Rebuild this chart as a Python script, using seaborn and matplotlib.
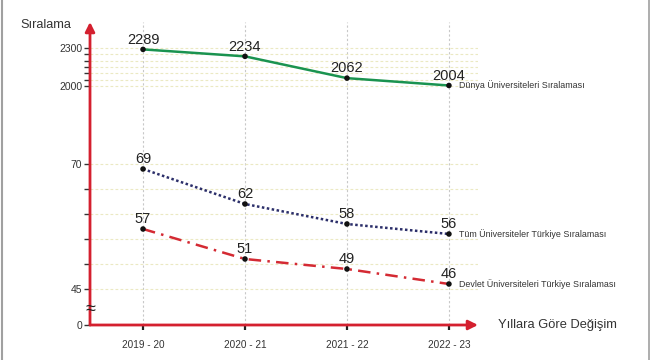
import numpy as np
import pandas as pd
import matplotlib
matplotlib.use('Agg')
import matplotlib.pyplot as plt
import seaborn as sns
from matplotlib.lines import Line2D
import matplotlib.transforms as mtransforms

# data
years = ['2019 - 20', '2020 - 21', '2021 - 22', '2022 - 23']
dunya = [2289, 2234, 2062, 2004]
tum_tr = [69, 62, 58, 56]
devlet_tr = [57, 51, 49, 46]
series_names = ['Dünya Üniversiteleri Sıralaması',
                'Tüm Üniversiteler Türkiye Sıralaması',
                'Devlet Üniversiteleri Türkiye Sıralaması']
major_ticks = [0, 45, 70, 2000, 2300]
minor_ticks = [50, 55, 60, 65, 2050, 2100, 2150, 2200, 2250]

sns.set_style('white')
plt.rcParams['font.family'] = ['Liberation Sans', 'DejaVu Sans']

RED = '#d4202f'
GREEN = '#1a9350'
NAVY = '#2c2f6a'
LRED = '#d42a33'

# broken axis: piecewise linear scale
VB = [0, 45, 70, 2000, 2300, 2600]
PB = [0, 36, 161, 239, 277, 315]


def fwd(v):
    return np.interp(v, VB, PB)


def inv(p):
    return np.interp(p, PB, VB)


fig = plt.figure(figsize=(6.5, 3.6), dpi=100)
ax = fig.add_axes([90 / 650, 35 / 360, 388 / 650, 303 / 360])
ax.set_yscale('function', functions=(fwd, inv))

df = pd.DataFrame({'x': range(len(years)), 'dunya': dunya,
                   'tum': tum_tr, 'devlet': devlet_tr})

sns.lineplot(data=df, x='x', y='dunya', ax=ax, color=GREEN, lw=1.8, zorder=3)
sns.lineplot(data=df, x='x', y='tum', ax=ax, color=NAVY, lw=1.8,
             linestyle=(0, (1, 1)), zorder=3)
sns.lineplot(data=df, x='x', y='devlet', ax=ax, color=LRED, lw=1.8,
             linestyle=(0, (5, 2.5, 1, 2.5)), zorder=3)

for col, name in zip(['dunya', 'tum', 'devlet'], series_names):
    sns.scatterplot(data=df, x='x', y=col, ax=ax, color='#111111', s=16,
                    edgecolor='none', zorder=4)
    for xi, v in zip(df['x'], df[col]):
        ax.annotate(str(v), (xi, v), xytext=(0, 2), textcoords='offset points',
                    ha='center', va='bottom', fontsize=10.5, color='#222222',
                    zorder=5)
    ax.annotate(name, (df['x'].iloc[-1], df[col].iloc[-1]), xytext=(7, 0),
                textcoords='offset points', ha='left', va='center',
                fontsize=6.4, color='#333333', annotation_clip=False)

ax.set_xlim(-0.52, 3.285)
ax.set_ylim(0, inv(303))

ax.set_yticks(major_ticks)
ax.set_yticklabels([str(t) for t in major_ticks])
ax.set_yticks(minor_ticks, minor=True)
ax.set_xticks(range(len(years)))
ax.set_xticklabels(years)

ax.tick_params(axis='y', which='both', direction='out', length=4.5, width=1,
               color='#333333', labelsize=7.5, labelcolor='#333333', pad=1,
               left=True)
ax.tick_params(axis='x', direction='out', length=3.5, width=1.6,
               color='#222222', labelsize=7.2, labelcolor='#333333', pad=7,
               bottom=True)

ax.grid(axis='y', which='both', color='#ebe9c2', linestyle=(0, (2.5, 2)), lw=0.8)
ax.grid(axis='x', which='major', color='#c8c8c8', linestyle=(0, (2, 2)), lw=0.8)
ax.set_xlabel('')
ax.set_ylabel('')
for s in ax.spines.values():
    s.set_visible(False)

# axis arrows
ax.annotate('', xy=(1, 0), xytext=(0, 0), xycoords='axes fraction',
            arrowprops=dict(arrowstyle='-|>', color=RED, lw=2,
                            mutation_scale=14, shrinkA=0, shrinkB=0),
            zorder=6, annotation_clip=False)
ax.annotate('', xy=(0, 1), xytext=(0, 0), xycoords='axes fraction',
            arrowprops=dict(arrowstyle='-|>', color=RED, lw=2,
                            mutation_scale=14, shrinkA=0, shrinkB=0),
            zorder=6, annotation_clip=False)

# break mark
trans = mtransforms.blended_transform_factory(ax.transAxes, ax.transData)
ax.text(0.0, 20, '≈', transform=trans, ha='center', va='center',
        fontsize=13, color='#222222', zorder=7, clip_on=False)

fig.text(20 / 650, 1 - 25 / 360, 'Sıralama', ha='left', va='center',
         fontsize=9.2, color='#333333')
fig.text(498 / 650, 1 - 325 / 360, 'Yıllara Göre Değişim', ha='left',
         va='center', fontsize=9.3, color='#333333')

# frame edges
fig.add_artist(Line2D([0.003, 0.003], [0, 1], color='#a0a0a0', lw=1.5))
fig.add_artist(Line2D([0.998, 0.998], [0, 1], color='#a0a0a0', lw=1.2))

fig.savefig('out.png', dpi=100)
